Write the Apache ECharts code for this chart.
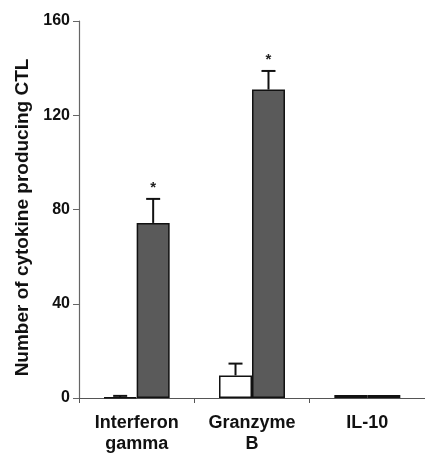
<!DOCTYPE html>
<html>
<head>
<meta charset="utf-8">
<script src="https://cdn.jsdelivr.net/npm/echarts@6/dist/echarts.min.js"></script>
<style>html,body{margin:0;padding:0;background:#fff}#c{width:425px;height:455px}</style>
</head>
<body>
<div id="c"></div>
<script>
var categories = ['Interferon\ngamma', 'Granzyme\nB', 'IL-10'];
var controlValues = [0.3, 9.6, 1.3];
var controlErrors = [0.6, 5.0, 0];
var ctlValues = [74.3, 130.9, 1.3];
var ctlErrors = [10.2, 7.9, 0];
var ctlSignificance = ['*', '*', ''];
var yTicks = [0, 40, 80, 120, 160];

var BAR_FRAC = 0.286;
function makeErr(values, errors, side, marks) {
  return {
    type: 'custom',
    z: 5,
    encode: { x: 0, y: 1 },
    data: values.map(function (v, i) { return [i, v, errors[i]]; }),
    renderItem: function (params, api) {
      var idx = api.value(0), v = api.value(1), e = api.value(2);
      if (!e) return null;
      var band = api.size([1, 0])[0];
      var bw = band * BAR_FRAC;
      var base = api.coord([idx, v]);
      var top = api.coord([idx, v + e]);
      var x = base[0] + side * bw / 2;
      var cap = 7;
      var children = [
        { type: 'line', shape: { x1: x, y1: base[1], x2: x, y2: top[1] }, style: { stroke: '#111', lineWidth: 2 } },
        { type: 'line', shape: { x1: x - cap, y1: top[1], x2: x + cap, y2: top[1] }, style: { stroke: '#111', lineWidth: 2 } }
      ];
      if (marks && marks[params.dataIndex]) {
        children.push({ type: 'text', style: { text: marks[params.dataIndex], x: x, y: top[1] - 4, align: 'center', verticalAlign: 'bottom', font: 'bold 15px "Liberation Sans", Arial, sans-serif', fill: '#222' } });
      }
      return { type: 'group', children: children };
    }
  };
}

var chart = echarts.init(document.getElementById('c'));
chart.setOption({
  animation: false,
  grid: { left: 79, right: 0, top: 21, bottom: 57, containLabel: false },
  xAxis: {
    type: 'category',
    data: categories,
    axisLine: { lineStyle: { color: '#555', width: 1.2 } },
    axisTick: { show: true, length: 5, lineStyle: { color: '#555' } },
    axisLabel: { color: '#111', fontWeight: 'bold', fontSize: 18, fontFamily: '"Liberation Sans", Arial, sans-serif', margin: 15, lineHeight: 21 }
  },
  yAxis: {
    type: 'value',
    min: yTicks[0],
    max: yTicks[yTicks.length - 1],
    interval: 40,
    name: 'Number of cytokine producing CTL',
    nameLocation: 'middle',
    nameGap: 47,
    nameTextStyle: { color: '#111', fontWeight: 'bold', fontSize: 19, fontFamily: '"Liberation Sans", Arial, sans-serif', padding: [0, 16, 0, 0] },
    axisLine: { show: true, lineStyle: { color: '#666', width: 1.2 } },
    axisTick: { show: true, length: 6, lineStyle: { color: '#666' } },
    axisLabel: { color: '#111', fontWeight: 'bold', fontSize: 16, fontFamily: '"Liberation Sans", Arial, sans-serif', margin: 9 },
    splitLine: { show: false }
  },
  series: [
    { type: 'bar', data: controlValues, barWidth: '28.6%', barGap: '0%', itemStyle: { color: '#fff', borderColor: '#111', borderWidth: 1.5 } },
    { type: 'bar', data: ctlValues, barWidth: '28.6%', barGap: '0%', itemStyle: { color: '#5a5a5a', borderColor: '#111', borderWidth: 1.5 } },
    makeErr(controlValues, controlErrors, -1, null),
    makeErr(ctlValues, ctlErrors, 1, ctlSignificance)
  ]
});
</script>
</body>
</html>
